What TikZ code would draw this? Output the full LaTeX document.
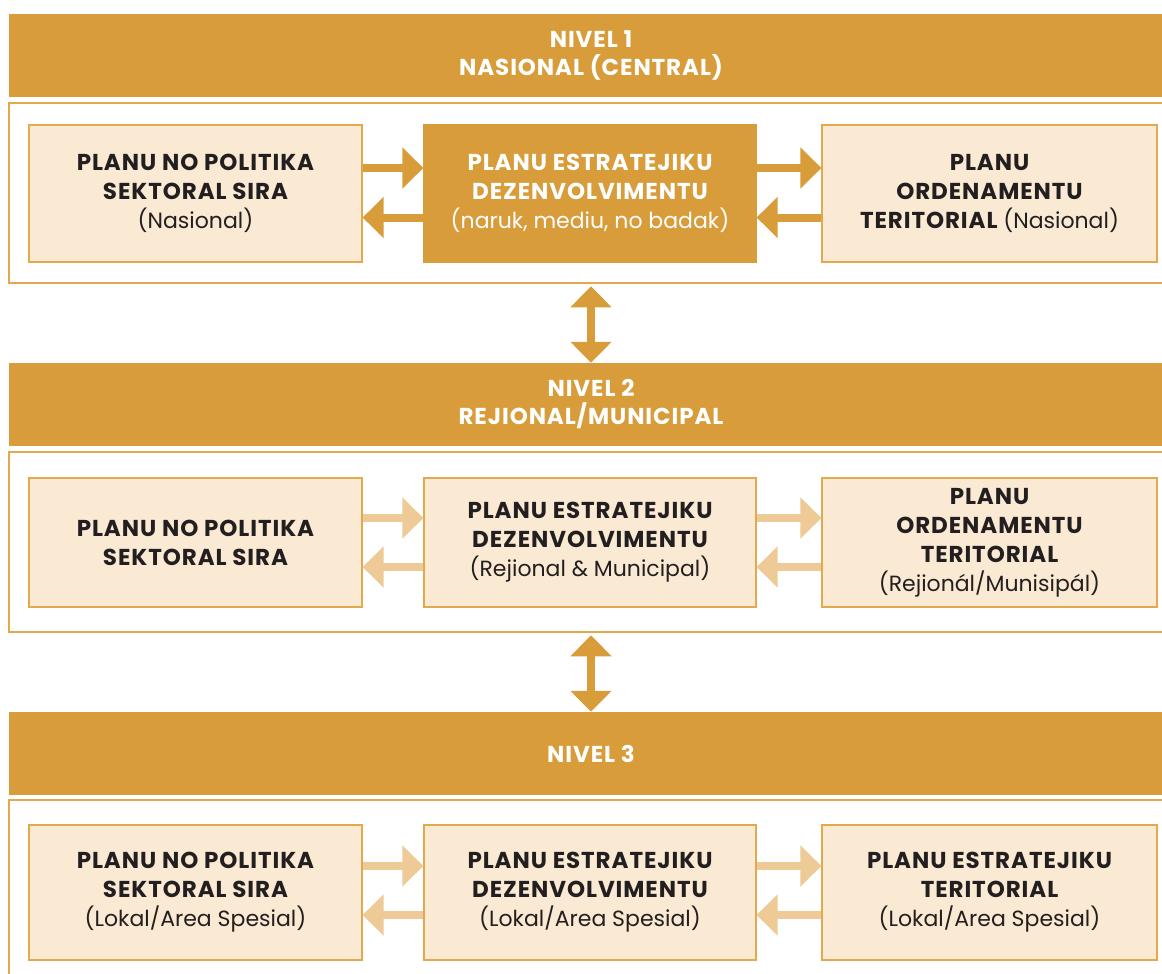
\documentclass[tikz,border=0pt]{standalone}
\usepackage{fontspec}
\setmainfont{Poppins}[BoldFeatures={LetterSpace=4}]
\usetikzlibrary{arrows.meta}
\definecolor{gold}{HTML}{D89D3A}
\definecolor{pale}{HTML}{FAEAD3}
\definecolor{edgec}{HTML}{E3A94F}
\definecolor{lightarrow}{HTML}{EDCA96}
\definecolor{ink}{HTML}{231F20}
\newcommand\bldtxt[1]{{\fontsize{23}{29}\selectfont\bfseries #1}}
\begin{document}
\begin{tikzpicture}[x=1pt,y=-1pt,
  header/.style={fill=gold, draw=none, minimum width=1164pt, minimum height=83pt, inner sep=0pt,
     text=white, align=center, font=\fontsize{23}{28}\selectfont\bfseries},
  frame/.style={draw=edgec, line width=2.5pt, fill=white, minimum width=1164pt, minimum height=180pt, inner sep=0pt},
  box/.style={draw=edgec, line width=1.2pt, fill=pale, text=ink, align=center, inner sep=0pt,
     minimum width=333pt, font=\fontsize{22}{29}\selectfont},
  darkbox/.style={box, fill=gold, draw=gold, text=white},
  harrow/.style={draw=gold, line width=8pt, -{Triangle[length=21pt,width=40pt]}},
  lharrow/.style={harrow, draw=lightarrow},
  varrow/.style={draw=gold, line width=8pt, {Triangle[length=21pt,width=40pt]}-{Triangle[length=21pt,width=40pt]}}
]
\useasboundingbox (0,0) rectangle (1162,974);
\clip (0,0) rectangle (1162,974);

% Level 1
\node[header] (h1) at (591,55.5) {NIVEL 1\\NASIONAL (CENTRAL)};
\node[frame] (f1) at (591,193) {};
\node[box, minimum height=137pt] (a1) at (195.5,193.5)
  {\bldtxt{PLANU NO POLITIKA}\\\bldtxt{SEKTORAL SIRA}\\(Nasional)};
\node[darkbox, minimum width=332pt, minimum height=137pt] (b1) at (590,193.5)
  {\bldtxt{PLANU ESTRATEJIKU}\\\bldtxt{DEZENVOLVIMENTU}\\(naruk, mediu, no badak)};
\node[box, minimum width=335pt, minimum height=137pt] (c1) at (989.5,193.5)
  {\bldtxt{PLANU}\\\bldtxt{ORDENAMENTU}\\\bldtxt{TERITORIAL} (Nasional)};
\draw[harrow] ([yshift=25.5pt]a1.east) -- ([yshift=25.5pt]b1.west);
\draw[harrow] ([yshift=-24pt]b1.west) -- ([yshift=-24pt]a1.east);
\draw[harrow] ([yshift=25.5pt]b1.east) -- ([yshift=25.5pt]c1.west);
\draw[harrow] ([yshift=-24pt]c1.west) -- ([yshift=-24pt]b1.east);

% Level 2
\node[header] (h2) at (591,404.5) {NIVEL 2\\REJIONAL/MUNICIPAL};
\draw[varrow] ([yshift=-2pt]f1.south) -- (h2.north);
\node[frame] (f2) at (591,542) {};
\node[box, minimum height=129pt] (a2) at (195.5,542.5)
  {\bldtxt{PLANU NO POLITIKA}\\\bldtxt{SEKTORAL SIRA}};
\node[box, minimum width=332pt, minimum height=129pt] (b2) at (590,542.5)
  {\bldtxt{PLANU ESTRATEJIKU}\\\bldtxt{DEZENVOLVIMENTU}\\(Rejional \& Municipal)};
\node[box, minimum width=335pt, minimum height=129pt] (c2) at (989.5,542.5)
  {\bldtxt{PLANU}\\\bldtxt{ORDENAMENTU}\\\bldtxt{TERITORIAL}\\(Rejionál/Munisipál)};
\draw[lharrow] ([yshift=24.5pt]a2.east) -- ([yshift=24.5pt]b2.west);
\draw[lharrow] ([yshift=-24.5pt]b2.west) -- ([yshift=-24.5pt]a2.east);
\draw[lharrow] ([yshift=24.5pt]b2.east) -- ([yshift=24.5pt]c2.west);
\draw[lharrow] ([yshift=-24.5pt]c2.west) -- ([yshift=-24.5pt]b2.east);

% Level 3
\node[header] (h3) at (591,753.5) {NIVEL 3};
\draw[varrow] ([yshift=-2pt]f2.south) -- (h3.north);
\node[frame] (f3) at (591,890) {};
\node[box, minimum height=135pt] (a3) at (195.5,892.5)
  {\bldtxt{PLANU NO POLITIKA}\\\bldtxt{SEKTORAL SIRA}\\(Lokal/Area Spesial)};
\node[box, minimum width=332pt, minimum height=135pt] (b3) at (590,892.5)
  {\bldtxt{PLANU ESTRATEJIKU}\\\bldtxt{DEZENVOLVIMENTU}\\(Lokal/Area Spesial)};
\node[box, minimum width=335pt, minimum height=135pt] (c3) at (989.5,892.5)
  {\bldtxt{PLANU ESTRATEJIKU}\\\bldtxt{TERITORIAL}\\(Lokal/Area Spesial)};
\draw[lharrow] ([yshift=26.5pt]a3.east) -- ([yshift=26.5pt]b3.west);
\draw[lharrow] ([yshift=-22.5pt]b3.west) -- ([yshift=-22.5pt]a3.east);
\draw[lharrow] ([yshift=26.5pt]b3.east) -- ([yshift=26.5pt]c3.west);
\draw[lharrow] ([yshift=-22.5pt]c3.west) -- ([yshift=-22.5pt]b3.east);
\end{tikzpicture}
\end{document}
